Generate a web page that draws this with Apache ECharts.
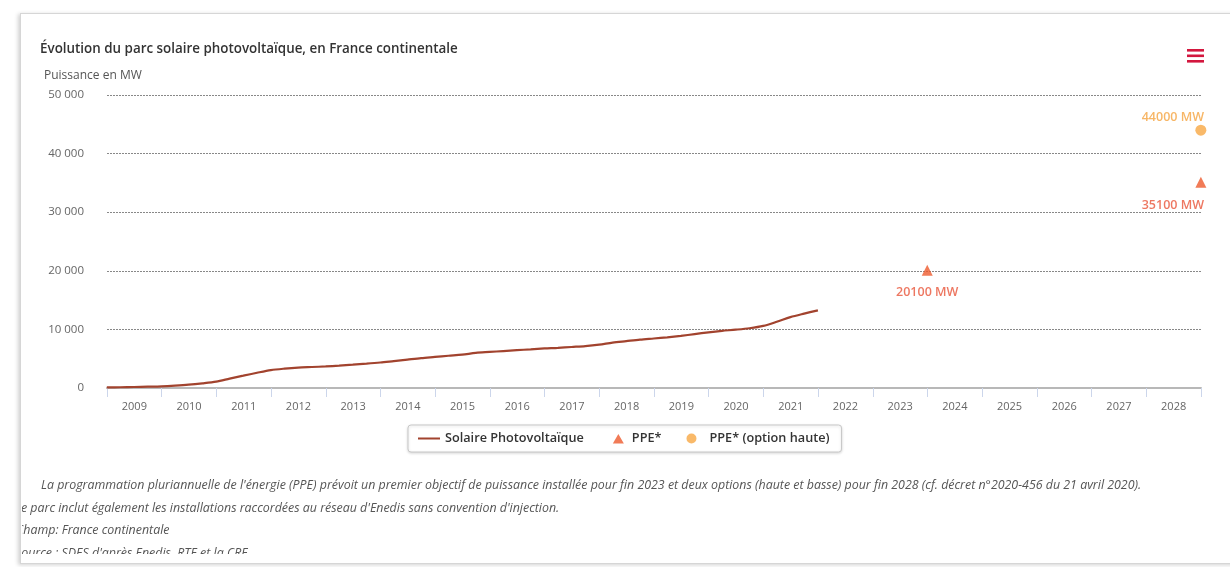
<!DOCTYPE html>
<html>
<head>
<meta charset="utf-8">
<script src="https://cdn.jsdelivr.net/npm/echarts@6/dist/echarts.min.js"></script>
<style>
  html, body { margin: 0; padding: 0; background: #fff; }
  #card { position: absolute; left: 20px; top: 13px; width: 1240px; height: 549px;
          border: 1px solid #d6d6d6; box-shadow: -2px 1px 4px rgba(0,0,0,0.18); background: #fff; }
  #chart { position: absolute; left: 0; top: 0; width: 1230px; height: 567px; }
  #notes { position: absolute; left: 22px; top: 474px; width: 1200px; height: 80px; overflow: hidden;
           font-family: 'Open Sans', sans-serif; font-style: italic; font-size: 12.4px; color: #555; }
  #notes div { white-space: nowrap; height: 22.5px; line-height: 22.5px; margin-left: -7px; }
</style>
</head>
<body>
<div id="card"></div>
<div id="chart"></div>
<div id="notes">
  <div style="margin-left:19px">La programmation pluriannuelle de l'énergie (PPE) prévoit un premier objectif de puissance installée pour fin 2023 et deux options (haute et basse) pour fin 2028 (cf. décret n°2020-456 du 21 avril 2020).</div>
  <div>Le parc inclut également les installations raccordées au réseau d'Enedis sans convention d'injection.</div>
  <div style="margin-left:-6px">Champ: France continentale</div>
  <div>Source : SDES d'après Enedis, RTE et la CRE</div>
</div>
<script>
const titleText = 'Évolution du parc solaire photovoltaïque, en France continentale';
const yAxisTitle = 'Puissance en MW';
const yearLabels = ['2009','2010','2011','2012','2013','2014','2015','2016','2017','2018','2019','2020','2021','2022','2023','2024','2025','2026','2027','2028'];
const solarDates = ['2008-12-31','2009-03-31','2009-06-30','2009-09-30','2009-12-31','2010-03-31','2010-06-30','2010-09-30','2010-12-31','2011-03-31','2011-06-30','2011-09-30','2011-12-31','2012-03-31','2012-06-30','2012-09-30','2012-12-31','2013-03-31','2013-06-30','2013-09-30','2013-12-31','2014-03-31','2014-06-30','2014-09-30','2014-12-31','2015-03-31','2015-06-30','2015-09-30','2015-12-31','2016-03-31','2016-06-30','2016-09-30','2016-12-31','2017-03-31','2017-06-30','2017-09-30','2017-12-31','2018-03-31','2018-06-30','2018-09-30','2018-12-31','2019-03-31','2019-06-30','2019-09-30','2019-12-31','2020-03-31','2020-06-30','2020-09-30','2020-12-31','2021-03-31','2021-06-30','2021-09-30','2021-12-31'];
const solarValues = [100,130,170,220,280,400,560,800,1100,1600,2100,2600,3050,3300,3480,3580,3680,3820,3980,4150,4350,4600,4850,5100,5300,5500,5680,6000,6150,6300,6450,6600,6750,6850,7000,7150,7400,7750,8000,8250,8450,8650,8900,9200,9500,9750,9950,10200,10600,11300,12100,12700,13250];
const ppeDates = ['2023-12-31','2028-12-31'];
const ppeValues = [20100,35100];
const hauteDates = ['2028-12-31'];
const hauteValues = [44000];
const seriesNames = ['Solaire Photovoltaïque','PPE*','PPE* (option haute)'];

const FONT = 'Open Sans';
const chart = echarts.init(document.getElementById('chart'), null, {renderer: 'canvas'});

const fmtThousands = v => String(v).replace(/\B(?=(\d{3})+(?!\d))/g, ' ');

// legend icons drawn inside a fixed 22x11 box (degenerate corner points keep the box size)
const BOX = 'M0,0L0.01,0Z M22,11L21.99,11Z ';
const iconLine = 'path://' + BOX + 'M0,4.6L22,4.6L22,6.6L0,6.6Z';
const iconTri = 'path://' + BOX + 'M8,10.5L13.5,1L19,10.5Z';
const iconDot = 'path://' + BOX + 'M4,5.5A5,5,0,1,1,14,5.5A5,5,0,1,1,4,5.5Z';

const option = {
  backgroundColor: 'transparent',
  animation: false,
  textStyle: { fontFamily: FONT },
  title: [
    { text: titleText, left: 35, top: 38,
      textStyle: { fontFamily: FONT, fontSize: 13.4, fontWeight: 600, color: '#333' } },
    { text: yAxisTitle, left: 39, top: 65,
      textStyle: { fontFamily: FONT, fontSize: 12, fontWeight: 'normal', color: '#555' } }
  ],
  grid: { left: 107, right: 29, top: 95, bottom: 179, containLabel: false },
  legend: {
    left: 408, top: 425,
    padding: [7, 12, 7, 10],
    borderColor: '#c8c8c8', borderWidth: 1, borderRadius: 3,
    shadowColor: 'rgba(0,0,0,0.15)', shadowBlur: 3, shadowOffsetY: 1,
    backgroundColor: '#fff',
    itemGap: 21, itemWidth: 22, itemHeight: 11,
    textStyle: { fontFamily: FONT, fontSize: 12.7, fontWeight: 600, color: '#333' },
    data: [
      { name: seriesNames[0], icon: iconLine, itemStyle: { color: '#a2432e' } },
      { name: seriesNames[1], icon: iconTri },
      { name: seriesNames[2], icon: iconDot }
    ]
  },
  xAxis: [
    {
      type: 'category', data: yearLabels, boundaryGap: true,
      axisLine: { lineStyle: { color: '#b8b8b8', width: 2 } },
      axisTick: { show: true, length: 9, lineStyle: { color: '#ccd6eb' } },
      axisLabel: { color: '#666', fontSize: 11, margin: 13, fontFamily: FONT },
      splitLine: { show: false }
    },
    {
      type: 'time', min: '2009-01-01', max: '2029-01-01', show: false
    }
  ],
  yAxis: {
    type: 'value', min: 0, max: 50000, interval: 10000,
    axisLine: { show: false }, axisTick: { show: false },
    axisLabel: { color: '#666', fontSize: 11.5, margin: 23, fontFamily: FONT, formatter: fmtThousands },
    splitLine: { lineStyle: { color: '#888', type: [2, 1], width: 1 } }
  },
  graphic: [
    { type: 'rect', shape: { x: 1187, y: 49, width: 17, height: 2.6 }, style: { fill: '#d3173e' } },
    { type: 'rect', shape: { x: 1187, y: 54.5, width: 17, height: 2.6 }, style: { fill: '#d3173e' } },
    { type: 'rect', shape: { x: 1187, y: 60, width: 17, height: 2.6 }, style: { fill: '#d3173e' } }
  ],
  series: [
    {
      name: seriesNames[0], type: 'line', xAxisIndex: 1,
      data: solarDates.map((d, i) => [d, solarValues[i]]),
      symbol: 'none', smooth: 0.3,
      lineStyle: { color: '#a2432e', width: 2.2 },
      itemStyle: { color: '#a2432e' }
    },
    {
      name: seriesNames[1], type: 'scatter', xAxisIndex: 1,
      symbol: 'triangle', symbolSize: 11,
      itemStyle: { color: '#ee5a2d' },
      data: ppeDates.map((d, i) => ({
        value: [d, ppeValues[i]],
        label: { offset: i === ppeDates.length - 1 ? [-28, 6] : [0, 5] }
      })),
      label: { show: true, position: 'bottom', color: '#e8553a', fontSize: 12.5, fontWeight: 600,
               fontFamily: FONT, formatter: p => p.value[1] + ' MW' }
    },
    {
      name: seriesNames[2], type: 'scatter', xAxisIndex: 1,
      symbol: 'circle', symbolSize: 11,
      itemStyle: { color: '#f7a843' },
      data: hauteDates.map((d, i) => ({ value: [d, hauteValues[i]], label: { offset: [-28, 4] } })),
      label: { show: true, position: 'top', color: '#f5a440', fontSize: 12.5, fontWeight: 600,
               fontFamily: FONT, formatter: p => p.value[1] + ' MW' }
    }
  ]
};
chart.setOption(option);
</script>
</body>
</html>
